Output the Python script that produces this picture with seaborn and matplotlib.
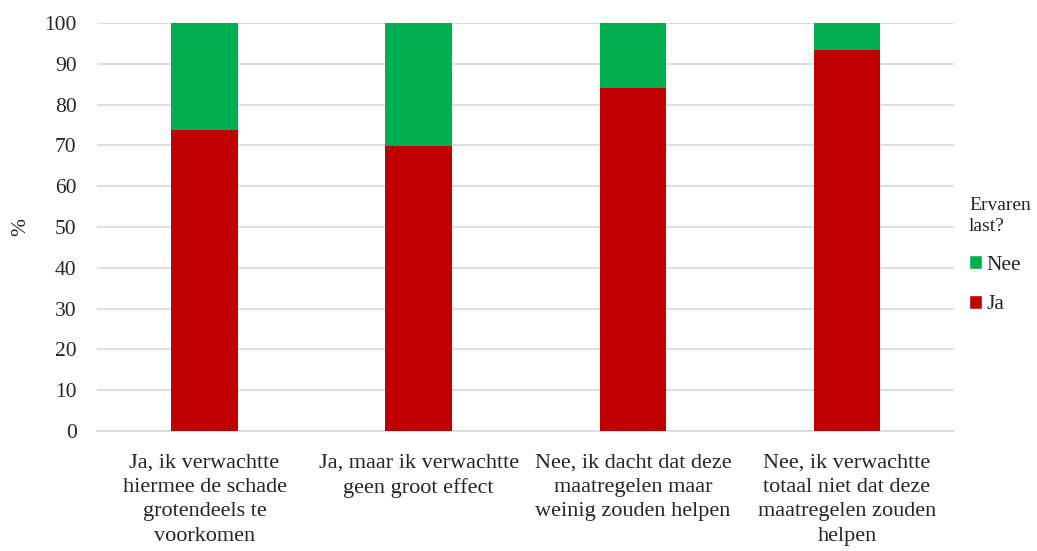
import matplotlib
matplotlib.use("Agg")
import matplotlib.pyplot as plt
import seaborn as sns
import pandas as pd
from matplotlib.patches import Patch

categories = [
    "Ja, ik verwachtte\nhiermee de schade\ngrotendeels te\nvoorkomen",
    "Ja, maar ik verwachtte\ngeen groot effect",
    "Nee, ik dacht dat deze\nmaatregelen maar\nweinig zouden helpen",
    "Nee, ik verwachtte\ntotaal niet dat deze\nmaatregelen zouden\nhelpen",
]
ja = [73.7, 69.8, 84.2, 93.5]
nee = [26.3, 30.2, 15.8, 6.5]
yticks = [0, 10, 20, 30, 40, 50, 60, 70, 80, 90, 100]

RED = "#C00000"
GREEN = "#00B050"

sns.set_theme(style="white")
plt.rcParams["font.family"] = ["Liberation Serif", "DejaVu Serif"]

df = pd.DataFrame({
    "cat": categories,
    "ja": ja,
    "total": [a + b for a, b in zip(ja, nee)],
})

fig = plt.figure(figsize=(10.37, 5.51), dpi=100)
ax = fig.add_axes([0.094, 0.218, 0.826, 0.740])

# stacked bars: full height in green, the "Ja" part drawn over it in red
sns.barplot(data=df, x="cat", y="total", color=GREEN, saturation=1,
            width=0.31, linewidth=0, ax=ax, zorder=3)
sns.barplot(data=df, x="cat", y="ja", color=RED, saturation=1,
            width=0.31, linewidth=0, ax=ax, zorder=4)

ax.set_ylim(0, 100)
ax.set_xlim(-0.5, 3.5)
ax.set_yticks(yticks)
ax.set_yticklabels([str(t) for t in yticks], fontsize=15.5)
ax.tick_params(axis="y", length=0, pad=15)
ax.tick_params(axis="x", length=0, pad=16, labelsize=16)
ax.yaxis.grid(True, color="#d9d9d9", linewidth=1.2, zorder=0)
ax.set_axisbelow(True)
for side in ["top", "right", "left"]:
    ax.spines[side].set_visible(False)
ax.spines["bottom"].set_color("#d9d9d9")
ax.spines["bottom"].set_linewidth(1.2)
ax.set_xlabel("")
ax.set_ylabel("%", fontsize=15.5, labelpad=10)
for lbl in ax.get_xticklabels():
    lbl.set_linespacing(1.4)

handles = [Patch(facecolor=GREEN, label="Nee"), Patch(facecolor=RED, label="Ja")]
leg = ax.legend(handles=handles, title="Ervaren\nlast?", loc="center left",
                bbox_to_anchor=(0.995, 0.43), frameon=False, fontsize=15.5,
                title_fontsize=14, handlelength=0.6, handleheight=0.6,
                handletextpad=0.2, labelspacing=0.95, borderaxespad=0.5)
leg._legend_box.align = "left"
leg.get_title().set_linespacing(1.3)

fig.savefig("out.png", dpi=100)
